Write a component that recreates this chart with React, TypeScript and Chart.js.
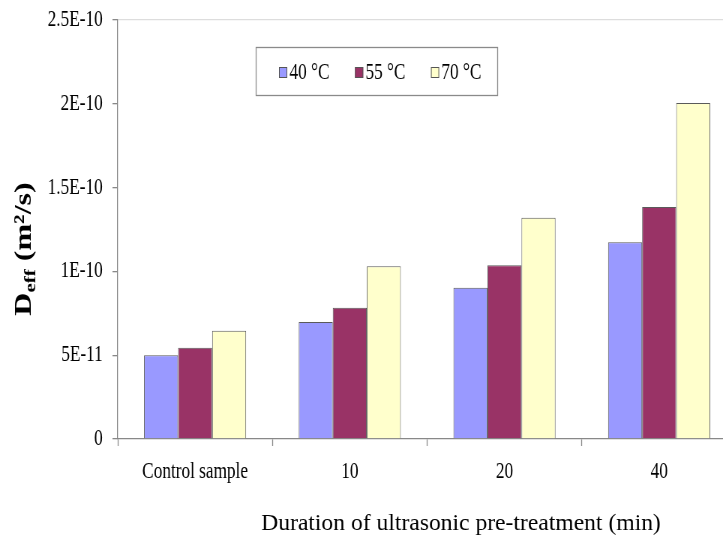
import React, { useEffect, useRef } from "react";
import { Chart, registerables } from "chart.js";

Chart.register(...registerables);

const categories = ["Control sample", "10", "20", "40"];
const seriesLabels = ["40 °C", "55 °C", "70 °C"];
const values40 = [5.0e-11, 6.98e-11, 9.03e-11, 1.174e-10];
const values55 = [5.45e-11, 7.83e-11, 1.036e-10, 1.384e-10];
const values70 = [6.46e-11, 1.03e-10, 1.32e-10, 2.005e-10];
const seriesColors = ["#9999FF", "#993366", "#FFFFCC"];
const yTickValues = [0, 5e-11, 1e-10, 1.5e-10, 2e-10, 2.5e-10];
const yTickLabels = ["0", "5E-11", "1E-10", "1.5E-10", "2E-10", "2.5E-10"];
const xTitle = "Duration of ultrasonic pre-treatment (min)";
const yTitleMain = "D";
const yTitleSub = "eff";
const yTitleRest = " (m\u00B2/s)";

const SX = 0.75; // horizontal compression of the chart
const LOGICAL_W = 982;
const H = 542;
const SERIF = "'Liberation Serif', 'Times New Roman', serif";

const overlayPlugin = {
  id: "overlay",
  afterDraw(chart: any) {
    const ctx = chart.ctx as CanvasRenderingContext2D;
    // Legend
    ctx.save();
    ctx.strokeStyle = "#8a8a8a";
    ctx.lineWidth = 1.3;
    ctx.strokeRect(341.5, 47.5, 322, 48);
    ctx.font = `23px ${SERIF}`;
    ctx.textBaseline = "alphabetic";
    ctx.fillStyle = "#000";
    let x = 372;
    chart.data.datasets.forEach((ds: any) => {
      ctx.fillStyle = ds.backgroundColor;
      ctx.fillRect(x, 67, 11, 11);
      ctx.strokeStyle = "#555";
      ctx.lineWidth = 1;
      ctx.strokeRect(x + 0.5, 67.5, 10, 10);
      ctx.fillStyle = "#000";
      ctx.fillText(ds.label, x + 14, 79);
      x += 14 + ctx.measureText(ds.label).width + 34;
    });
    ctx.restore();

    // Y title (rotated, with subscript)
    ctx.save();
    ctx.translate(41, 249);
    ctx.rotate(-Math.PI / 2);
    ctx.fillStyle = "#000";
    ctx.textBaseline = "alphabetic";
    const fMain = `bold 32px ${SERIF}`;
    const fSub = `bold 21px ${SERIF}`;
    ctx.font = fMain;
    const wD = ctx.measureText(yTitleMain).width;
    const wR = ctx.measureText(yTitleRest).width;
    ctx.font = fSub;
    const wS = ctx.measureText(yTitleSub).width;
    let tx = -(wD + wS + wR) / 2;
    ctx.font = fMain;
    ctx.fillText(yTitleMain, tx, 0);
    tx += wD;
    ctx.font = fSub;
    ctx.fillText(yTitleSub, tx, 6);
    tx += wS;
    ctx.font = fMain;
    ctx.fillText(yTitleRest, tx, 0);
    ctx.restore();

    // X title (not compressed)
    ctx.save();
    ctx.translate(461 / SX, 530);
    ctx.scale(1 / SX, 1);
    ctx.font = `23.6px ${SERIF}`;
    ctx.fillStyle = "#000";
    ctx.textAlign = "center";
    ctx.textBaseline = "alphabetic";
    ctx.fillText(xTitle, 0, 0);
    ctx.restore();
  },
};

export default function App() {
  const canvasRef = useRef<HTMLCanvasElement | null>(null);

  useEffect(() => {
    if (!canvasRef.current) return;
    const seriesData = [values40, values55, values70];
    const chart = new Chart(canvasRef.current, {
      type: "bar",
      data: {
        labels: categories,
        datasets: seriesLabels.map((label, i) => ({
          label,
          data: seriesData[i],
          backgroundColor: seriesColors[i],
          borderColor: "#5a5a5a",
          borderWidth: 1,
          categoryPercentage: 0.66,
          barPercentage: 1,
        })),
      },
      options: {
        animation: false,
        responsive: false,
        devicePixelRatio: 1,
        layout: { padding: { top: 0, left: 0, right: 0, bottom: 0 } },
        plugins: {
          legend: { display: false },
          tooltip: { enabled: false },
          title: { display: false },
        },
        scales: {
          x: {
            grid: {
              offset: true,
              drawOnChartArea: false,
              tickLength: 7,
              tickColor: "#888",
              tickWidth: 1.3,
            },
            border: { display: true, color: "#888", width: 1.3 },
            ticks: {
              color: "#000",
              font: { family: SERIF, size: 23 },
              padding: 12,
              maxRotation: 0,
              autoSkip: false,
            },
            afterFit: (scale: any) => {
              scale.height = 103;
            },
          },
          y: {
            min: 0,
            max: 2.5e-10,
            afterBuildTicks: (scale: any) => {
              scale.ticks = yTickValues.map((v) => ({ value: v }));
            },
            grid: {
              drawOnChartArea: true,
              color: (c: any) =>
                c.index === yTickValues.length - 1 ? "#dddddd" : "rgba(0,0,0,0)",
              tickColor: "#888",
              tickLength: 7,
              lineWidth: 1.3,
            },
            border: { display: true, color: "#888", width: 1.3 },
            ticks: {
              color: "#000",
              font: { family: SERIF, size: 23 },
              padding: 13,
              callback: (_v: any, i: number) => yTickLabels[i],
            },
            afterFit: (scale: any) => {
              scale.width = 157;
              scale.paddingTop = 20;
              scale.paddingBottom = 0;
            },
          },
        },
      },
      plugins: [overlayPlugin],
    });
    return () => chart.destroy();
  }, []);

  return (
    <div
      style={{
        position: "fixed",
        left: 0,
        top: 0,
        width: 723,
        height: H,
        overflow: "hidden",
        background: "#fff",
      }}
    >
      <canvas
        ref={canvasRef}
        width={LOGICAL_W}
        height={H}
        style={{
          width: LOGICAL_W,
          height: H,
          transform: `scaleX(${SX})`,
          transformOrigin: "0 0",
          display: "block",
        }}
      />
    </div>
  );
}
